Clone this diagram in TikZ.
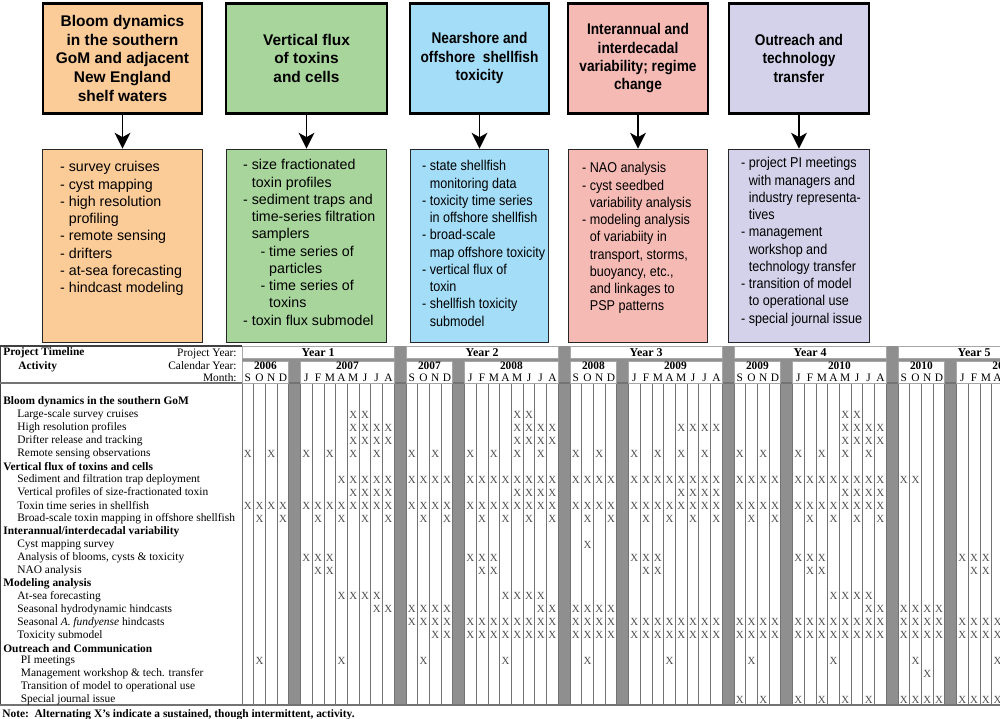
\documentclass[tikz,border=0pt]{standalone}
\usepackage{fontspec}
\setmainfont{Liberation Serif}
\setsansfont{Liberation Sans}
\newfontfamily\narrowsans[FakeStretch=0.885]{Liberation Sans}
\usepackage{xcolor}
\usetikzlibrary{arrows.meta, positioning}

\definecolor{bloomorange}{HTML}{FBCB98}
\definecolor{fluxgreen}{HTML}{A8D59B}
\definecolor{shellblue}{HTML}{A3DDF7}
\definecolor{regimepink}{HTML}{F6BAB5}
\definecolor{outreachlilac}{HTML}{D4D2EA}
\definecolor{sepgray}{HTML}{8F8F8F}

\newcommand{\hang}{\phantom{- }}

\begin{document}
\begin{tikzpicture}[x=0.02cm, y=-0.02cm,
    theme/.style={draw=black, line width=1.5pt, anchor=north, align=center, inner sep=0pt,
      minimum height=2.2cm, font=\sffamily\bfseries\fontsize{8.8}{10.7}\selectfont},
    narrowtheme/.style={theme, font=\narrowsans\bfseries\fontsize{8.8}{10.5}\selectfont},
    listbox/.style={draw=black!85, line width=0.8pt, inner sep=0pt, minimum height=3.86cm},
    listtext/.style={anchor=north west, align=left, inner sep=0pt,
      font=\sffamily\fontsize{8.1}{9.83}\selectfont},
    narrowlist/.style={listtext, font=\narrowsans\fontsize{8.1}{9.83}\selectfont},
    down/.style={-{Stealth[length=9pt, width=9pt, inset=2.5pt]}, line width=1pt},
    tabtext/.style={inner sep=0pt, font=\fontsize{6.5}{7.6}\selectfont},
    headtext/.style={inner sep=0pt, anchor=west, font=\bfseries\fontsize{6.5}{7.6}\selectfont},
    itemtext/.style={tabtext, anchor=west},
    whitebox/.style={fill=white, draw=gray!70, line width=0.5pt, inner sep=0pt},
    colline/.style={draw=black!55, line width=0.5pt},
    xmark/.style={inner sep=0pt, text=black!70, font=\fontsize{6.2}{7}\selectfont}]
    \useasboundingbox (0,0) rectangle (1000,719);
    \clip (0,0) rectangle (1000,719);

    % 1. Five theme boxes along the top
    \node[theme, fill=bloomorange, minimum width=3.18cm] (bloom) at (122.5,2)
        {Bloom dynamics\\in the southern\\GoM and adjacent\\New England\\shelf waters};
    \node[theme, fill=fluxgreen, minimum width=3.22cm] (flux) at (306.5,2)
        {Vertical flux\\of toxins\\and cells};
    \node[narrowtheme, fill=shellblue, minimum width=2.78cm] (shell) at (479.5,2)
        {Nearshore and\\offshore\ \ shellfish\\toxicity};
    \node[narrowtheme, fill=regimepink, minimum width=2.8cm] (regime) at (638,2)
        {Interannual and\\interdecadal\\variability; regime\\change};
    \node[narrowtheme, fill=outreachlilac, minimum width=2.8cm] (outreach) at (799,2)
        {Outreach and\\technology\\transfer};

    % 2. Task boxes under each theme
    \node[listbox, fill=bloomorange, minimum width=3.2cm, below=0.68cm of bloom] (bloomlist) {};
    \node[listbox, fill=fluxgreen, minimum width=3.2cm, below=0.68cm of flux] (fluxlist) {};
    \node[listbox, fill=shellblue, minimum width=2.76cm, below=0.68cm of shell] (shelllist) {};
    \node[listbox, fill=regimepink, minimum width=2.78cm, below=0.68cm of regime] (regimelist) {};
    \node[listbox, fill=outreachlilac, minimum width=2.82cm, below=0.68cm of outreach] (outreachlist) {};

    \draw[down] (bloom) -- (bloomlist);
    \draw[down] (flux) -- (fluxlist);
    \draw[down] (shell) -- (shelllist);
    \draw[down] (regime) -- (regimelist);
    \draw[down] (outreach) -- (outreachlist);

    \node[listtext] (bloomitems) at ([xshift=0.36cm, yshift=-0.25cm]bloomlist.north west)
        {- survey cruises\\- cyst mapping\\- high resolution\\\hang profiling\\- remote sensing\\- drifters\\- at-sea forecasting\\- hindcast modeling};
    \node[listtext] (fluxitems) at ([xshift=0.34cm, yshift=-0.21cm]fluxlist.north west)
        {- size fractionated\\\hang toxin profiles\\- sediment traps and\\\hang time-series filtration\\\hang samplers\\\hang\hang - time series of\\\hang\hang\hang particles\\\hang\hang - time series of\\\hang\hang\hang toxins\\- toxin flux submodel};
    \node[narrowlist] (shellitems) at ([xshift=0.24cm, yshift=-0.23cm]shelllist.north west)
        {- state shellfish\\\hang monitoring data\\- toxicity time series\\\hang in offshore shellfish\\- broad-scale\\\hang map offshore toxicity\\- vertical flux of\\\hang toxin\\- shellfish toxicity\\\hang submodel};
    \node[narrowlist] (regimeitems) at ([xshift=0.28cm, yshift=-0.27cm]regimelist.north west)
        {- NAO analysis\\- cyst seedbed\\\hang variability analysis\\- modeling analysis\\\hang of variabiity in\\\hang transport, storms,\\\hang buoyancy, etc.,\\\hang and linkages to\\\hang PSP patterns};
    \node[narrowlist] (outreachitems) at ([xshift=0.26cm, yshift=-0.17cm]outreachlist.north west)
        {- project PI meetings\\\hang with managers and\\\hang industry representa-\\\hang tives\\- management\\\hang workshop and\\\hang technology transfer\\- transition of model\\\hang to operational use\\- special journal issue};

    % 3. Timeline table: header band and frame
    \fill[sepgray] (242,346) rectangle (1000,383);
    \draw[black!75, line width=0.6pt] (0,346) -- (242,346);
    \draw[black!75, line width=0.6pt] (0.6,346) -- (0.6,705);

    \node[headtext] (timeline) at (3,353) {Project Timeline};
    \node[headtext] (activity) at (18,367) {Activity};
    \node[tabtext, anchor=east] (projyear) at (237,354) {Project Year:};
    \node[tabtext, anchor=east] (calyear) at (237,366) {Calendar Year:};
    \node[tabtext, anchor=east] (month) at (237,377.5) {Month:};

    % 4. Body columns and separators
    \foreach \k in {0,...,4}
      \foreach \p in {4,13}
        \fill[sepgray] ({242+(\k*14+\p)*11.714},383) rectangle ++(11.714,322);
    \foreach \j in {0,...,65}
      \draw[colline] ({242+\j*11.714},383) -- ({242+\j*11.714},705);
    \draw[black!55, line width=0.6pt] (0,383) -- (1000,383);
    \draw[black!55, line width=1.4pt] (0,705) -- (1000,705);

    % 5. Project years, calendar years and months
    \foreach \k/\n/\ya/\yb in {0/1/2006/2007, 1/2/2007/2008, 2/3/2008/2009, 3/4/2009/2010, 4/5/2010/2011}{
      \node[whitebox, minimum width=3.046cm, minimum height=0.23cm, font=\bfseries\fontsize{6.8}{8}\selectfont]
          (year\n) at ({242+\k*164+76.15},352.5) {Year \n};
      \node[whitebox, minimum width=0.937cm, minimum height=0.44cm] (fall\n) at ({242+\k*164+23.43},372) {};
      \node[whitebox, minimum width=1.874cm, minimum height=0.44cm] (spring\n) at ({242+\k*164+105.43},372) {};
      \node[headtext, anchor=center] (fallyr\n) at ({242+\k*164+23.43},365.5) {\ya};
      \node[headtext, anchor=center] (springyr\n) at ({242+\k*164+105.43},365.5) {\yb};
      \foreach \p/\m in {0/S,1/O,2/N,3/D,5/J,6/F,7/M,8/A,9/M,10/J,11/J,12/A}
        \node[tabtext] (mon\n-\p) at ({242+(\k*14+\p+0.5)*11.714},377.5) {\m};
    }

    % 6. Activity names
    \foreach \r/\lbl in {0/Bloom dynamics in the southern GoM, 5/Vertical flux of toxins and cells,
        10/{Interannual/interdecadal variability}, 14/Modeling analysis, 19/Outreach and Communication}
      \node[headtext] (act\r) at (3,{402+\r*12.96}) {\lbl};
    \foreach \r/\lbl in {1/Large-scale survey cruises, 2/High resolution profiles,
        3/Drifter release and tracking, 4/Remote sensing observations,
        6/Sediment and filtration trap deployment, 7/Vertical profiles of size-fractionated toxin,
        8/Toxin time series in shellfish, 9/Broad-scale toxin mapping in offshore shellfish,
        11/Cyst mapping survey, 12/{Analysis of blooms, cysts \& toxicity}, 13/NAO analysis,
        15/At-sea forecasting, 16/Seasonal hydrodynamic hindcasts,
        17/Seasonal \textit{A. fundyense} hindcasts, 18/Toxicity submodel}
      \node[itemtext] (act\r) at (17,{402+\r*12.96}) {\lbl};
    \foreach \r/\lbl in {20/PI meetings, 21/Management workshop \& tech. transfer,
        22/Transition of model to operational use, 23/Special journal issue}
      \node[itemtext] (act\r) at (20.5,{402+\r*12.96}) {\lbl};

    % 7. X marks: row / year offsets / month positions
    \foreach \r/\yrs/\ps in {1/{0,14,42}/{9,10},
        2/{0,14,28,42}/{9,10,11,12},
        3/{0,14,42}/{9,10,11,12},
        4/{0,14,28,42}/{0,2,5,7,9,11},
        6/{0}/{8,9,10,11,12},
        6/{14,28,42}/{0,1,2,3,5,6,7,8,9,10,11,12},
        6/{56}/{0,1},
        7/{0,14,28,42}/{9,10,11,12},
        8/{0,14,28,42}/{0,1,2,3,5,6,7,8,9,10,11,12},
        9/{0,14,28,42}/{1,3,6,8,10,12},
        11/{28}/{1},
        12/{0,14,28,42,56}/{5,6,7},
        13/{0,14,28,42,56}/{6,7},
        15/{0,14,42}/{8,9,10,11},
        16/{0,14,42}/{11,12},
        16/{14,28,56}/{0,1,2,3},
        17/{14,28,42}/{0,1,2,3,5,6,7,8,9,10,11,12},
        17/{56}/{0,1,2,3,5,6,7,8},
        18/{14}/{2,3,5,6,7,8,9,10,11,12},
        18/{28,42}/{0,1,2,3,5,6,7,8,9,10,11,12},
        18/{56}/{0,1,2,3,5,6,7,8},
        20/{0,14,28,42,56}/{1,8},
        21/{56}/{2},
        23/{42}/{0,2,5,7,9,11},
        23/{56}/{0,1,2,3,5,6,7,8}}
      \foreach \b in \yrs
        \foreach \p in \ps
          \node[xmark] (x\r-\b-\p) at ({242+(\b+\p+0.5)*11.714},{402+\r*12.96}) {X};

    \node[headtext] (note) at (2,714.5) {Note:\ \ Alternating X's indicate a sustained, though intermittent, activity.};
\end{tikzpicture}
\end{document}
